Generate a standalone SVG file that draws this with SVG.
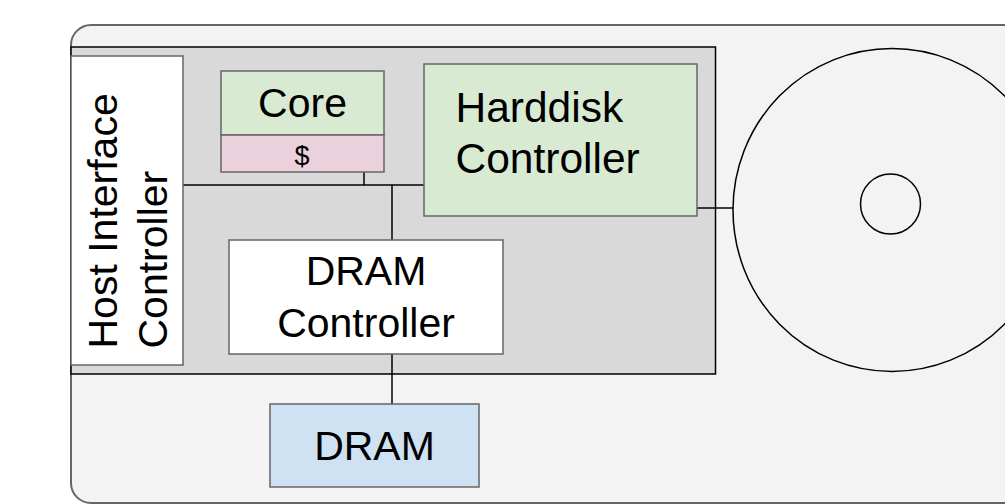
<svg xmlns="http://www.w3.org/2000/svg" width="1005" height="504" viewBox="0 0 1005 504">
  <style>
    text { font-family: "Liberation Sans", Arial, sans-serif; fill: #000; }
    .lbl { font-size: 41px; }
    .big { font-size: 42.5px; }
    .mid { text-anchor: middle; }
    .box { stroke: #666; stroke-width: 1.5; }
    .wire { stroke: #000; stroke-width: 1.5; fill: none; }
  </style>

  <!-- drive enclosure -->
  <g id="enclosure">
    <rect x="71" y="25" width="980" height="478" rx="20" ry="20" fill="#f3f3f3" stroke="#666" stroke-width="2"/>
  </g>

  <!-- controller board -->
  <g id="board">
    <rect x="71" y="47" width="644.5" height="327" fill="#d9d9d9" stroke="#000" stroke-width="1.5"/>
  </g>

  <!-- connectors -->
  <g id="connectors">
    <line class="wire" x1="183" y1="185" x2="424" y2="185"/>
    <line class="wire" x1="364" y1="172" x2="364" y2="185"/>
    <line class="wire" x1="392" y1="185" x2="392" y2="240"/>
    <line class="wire" x1="392" y1="354" x2="392" y2="404"/>
    <line class="wire" x1="697" y1="208" x2="733" y2="208"/>
  </g>

  <g id="host-interface-controller">
    <rect class="box" x="71" y="56" width="112" height="309" fill="#ffffff"/>
    <text class="lbl" transform="translate(116.5 348.5) rotate(-90)">
      <tspan x="0" y="0">Host Interface</tspan>
      <tspan x="0" y="50">Controller</tspan>
    </text>
  </g>

  <g id="core">
    <rect class="box" x="221" y="71" width="163" height="64" fill="#d9ead3"/>
    <text class="lbl mid" x="302.5" y="116.5">Core</text>
  </g>

  <g id="cache">
    <rect class="box" x="221" y="135" width="163" height="37" fill="#ead1dc"/>
    <text class="mid" x="302" y="165" font-size="27">$</text>
  </g>

  <g id="harddisk-controller">
    <rect class="box" x="424" y="64" width="273" height="152" fill="#d9ead3"/>
    <text class="big" x="455.5" y="122">Harddisk</text>
    <text class="big" x="455.5" y="173">Controller</text>
  </g>

  <g id="dram-controller">
    <rect class="box" x="229" y="240" width="274" height="114" fill="#ffffff"/>
    <text class="lbl mid" x="366" y="285">DRAM</text>
    <text class="lbl mid" x="366" y="337">Controller</text>
  </g>

  <g id="dram">
    <rect class="box" x="270" y="404" width="209" height="83" fill="#cfe2f3"/>
    <text class="lbl mid" x="374.5" y="460">DRAM</text>
  </g>

  <g id="platter">
    <ellipse cx="892" cy="210" rx="159" ry="161.5" fill="none" stroke="#000" stroke-width="1.5"/>
    <circle cx="890.5" cy="204" r="30" fill="none" stroke="#000" stroke-width="1.5"/>
  </g>
</svg>
